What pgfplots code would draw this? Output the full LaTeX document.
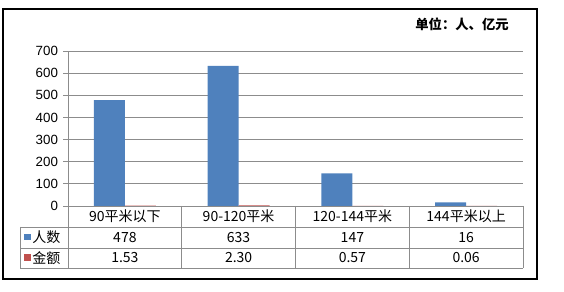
\documentclass[border=0pt]{standalone}
\usepackage{pgfplots}
\pgfplotsset{compat=1.18}
\usepackage{fontspec}
\setmainfont{Liberation Sans}
\newfontfamily\cjk{Noto Sans CJK SC}
\definecolor{barblue}{HTML}{4F81BD}
\definecolor{barred}{HTML}{C0504D}
\definecolor{gridgray}{HTML}{8C8C8C}
\begin{document}
\begin{tikzpicture}[x=0.75pt,y=0.75pt]
\useasboundingbox (0,0) rectangle (564,292);
\begin{axis}[
  at={(51pt,64.5pt)}, anchor=south west,
  scale only axis, width=341.25pt, height=116.25pt,
  xmin=-0.5, xmax=3.5, ymin=0, ymax=700,
  ytick={0,100,...,700}, xtick=\empty,
  ymajorgrids, grid style={gridgray, line width=0.6pt},
  axis x line*=bottom, axis y line*=left,
  axis line style={draw=gridgray, line width=0.6pt, -},
  tick align=outside, major tick length=3.5pt,
  major tick style={draw=gridgray, line width=0.6pt},
  /pgf/number format/assume math mode=true,
  yticklabel style={font=\fontsize{10}{12}\selectfont, xshift=-0.5pt},
  ybar=0pt, bar width=0.2725,
  clip=false,
]
\addplot[fill=barblue, draw=none] coordinates {(0,478) (1,633) (2,147) (3,16)};
\addplot[fill=barred, draw=none] coordinates {(0,1.53) (1,2.30) (2,0.57) (3,0.06)};
\end{axis}
% data table
\begin{scope}[draw=gridgray, line width=0.6pt]
\draw (20,65) -- (523,65);
\draw (20,44) -- (523,44);
\draw (20,24) -- (523,24);
\draw (20,65) -- (20,24);
\draw (68,86) -- (68,24);
\foreach \xx in {181.75,295.5,409.25,523} {\draw (\xx,86) -- (\xx,24);}
\end{scope}
\begin{scope}[every node/.style={font=\cjk\fontsize{10.5}{12}\selectfont, inner sep=0pt}]
\node at (124.9,75.5) {90平米以下};
\node at (238.6,75.5) {90-120平米};
\node at (352.4,75.5) {120-144平米};
\node at (466.1,75.5) {144平米以上};
\node at (124.9,54.5) {478};
\node at (238.6,54.5) {633};
\node at (352.4,54.5) {147};
\node at (466.1,54.5) {16};
\node at (124.9,34) {1.53};
\node at (238.6,34) {2.30};
\node at (352.4,34) {0.57};
\node at (466.1,34) {0.06};
\node[anchor=west] at (32,54.5) {人数};
\node[anchor=west] at (32,34) {金额};
\end{scope}
\fill[barblue] (24,51.5) rectangle (30.5,58);
\fill[barred] (24,31) rectangle (30.5,37.5);
\node[font=\cjk\bfseries\fontsize{10}{12}\selectfont, inner sep=0pt] at (462,268) {单位：人、亿元};
\draw[black, line width=0.9pt] (3,283) rectangle (537,13);
\end{tikzpicture}
\end{document}
